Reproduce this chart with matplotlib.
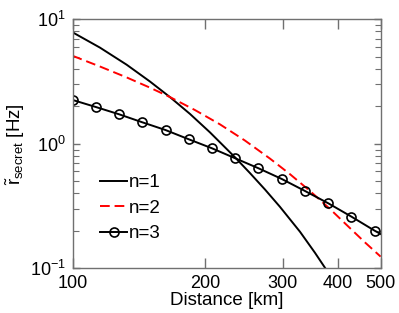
import numpy as np
import matplotlib
matplotlib.use('Agg')
import matplotlib.pyplot as plt
from matplotlib.ticker import FixedLocator, FixedFormatter, NullLocator, LogLocator

plt.rcParams['font.family'] = ['Liberation Sans', 'DejaVu Sans']
plt.rcParams['mathtext.fontset'] = 'custom'
plt.rcParams['mathtext.rm'] = 'Liberation Sans'
plt.rcParams['mathtext.it'] = 'Liberation Sans'
plt.rcParams['mathtext.bf'] = 'Liberation Sans:bold'

# n=1 (solid black)
d_n1 = [100, 115.3, 132.6, 149.8, 166.3, 184.6, 204.9, 233.6, 252.6, 273.3, 295.4,
        328.1, 354.8, 373.9, 379.7]
r_n1 = [7.86, 5.93, 4.32, 3.165, 2.372, 1.739, 1.237, 0.779, 0.582, 0.429, 0.312,
        0.1965, 0.1332, 0.1009, 0.093]

# n=2 (red dashed)
d_n2 = [100, 115.3, 132.6, 149.8, 166.3, 189.5, 215.9, 246.1, 280.4, 311.3, 345.6,
        383.7, 426.0, 460.7, 500]
r_n2 = [5.09, 4.18, 3.415, 2.825, 2.374, 1.867, 1.434, 1.062, 0.761, 0.5705, 0.418,
        0.2997, 0.2102, 0.1614, 0.1241]

# n=3 (black with circles)
d_n3 = [100, 112.9, 127.5, 143.9, 162.5, 183.5, 207.2, 233.9, 264.1, 298.2, 336.7,
        380.2, 429.2, 484.6, 500]
r_n3 = [2.25, 1.975, 1.726, 1.489, 1.29, 1.087, 0.920, 0.765, 0.636, 0.522, 0.418,
        0.333, 0.26, 0.2005, 0.1886]

x_ticks = [100, 200, 300, 400, 500]
x_labels = ['100', '200', '300', '400', '500']

fig = plt.figure(figsize=(3.99, 3.13), dpi=100)
ax = fig.add_axes([0.182, 0.1428, 0.772, 0.7955])

lw = 1.4
ax.plot(d_n1, r_n1, color='black', lw=lw, label='n=1')
ax.plot(d_n2, r_n2, color='red', lw=lw, linestyle=(0, (5, 2.5)), label='n=2')
ax.plot(d_n3, r_n3, color='black', lw=lw, marker='o', markersize=6.5,
        markerfacecolor='none', markeredgecolor='black', markeredgewidth=1.2,
        markevery=list(range(len(d_n3) - 1)), label='n=3')

ax.set_xscale('log')
ax.set_yscale('log')
ax.set_xlim(100, 500)
ax.set_ylim(0.1, 10)

ax.xaxis.set_major_locator(FixedLocator(x_ticks))
ax.xaxis.set_major_formatter(FixedFormatter(x_labels))
ax.xaxis.set_minor_locator(NullLocator())
ax.yaxis.set_major_locator(LogLocator(base=10))
ax.yaxis.set_minor_locator(LogLocator(base=10, subs=np.arange(2, 10)))

spine_col = '#707070'
for s in ax.spines.values():
    s.set_color(spine_col)
    s.set_linewidth(1.0)

ax.tick_params(axis='x', which='major', direction='in', top=True, bottom=True,
               length=7, width=1.0, color=spine_col, labelsize=13, pad=5)
ax.tick_params(axis='y', which='major', direction='in', left=True, right=True,
               length=5, width=1.0, color=spine_col, labelsize=13, pad=5)
ax.tick_params(axis='y', which='minor', direction='in', left=True, right=True,
               length=4, width=0.8, color=spine_col)

ax.set_xlabel('Distance [km]', fontsize=13.5, labelpad=0)
ax.set_ylabel(r'$\tilde{\mathrm{r}}_{\mathrm{secret}}$ [Hz]', fontsize=13.5, labelpad=2)

ax.legend(loc='lower left', bbox_to_anchor=(0.065, 0.074), frameon=False, fontsize=13.5,
          handlelength=1.45, handletextpad=0.1, labelspacing=0.45, borderaxespad=0)

fig.savefig('out.png', dpi=100)
